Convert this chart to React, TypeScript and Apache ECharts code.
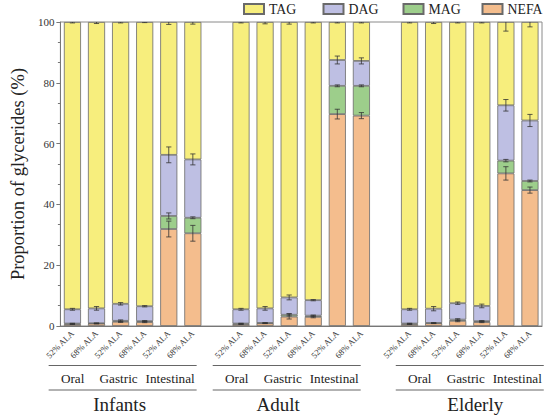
import React, { useEffect, useRef } from "react";
import * as echarts from "echarts";

const groups = ["Infants", "Adult", "Elderly"];
const phases = ["Oral", "Gastric", "Intestinal"];
const formulas = ["52% ALA", "68% ALA"];
const legendNames = ["TAG", "DAG", "MAG", "NEFA"];

// 18 bars: Infants(O52,O68,G52,G68,I52,I68), Adult(...), Elderly(...)
const NEFA = [0.6, 0.8, 1.4, 1.3, 31.9, 30.5, 0.6, 0.9, 3.1, 3.0, 69.7, 69.2, 0.6, 0.9, 1.7, 1.3, 50.2, 44.7];
const MAG = [0.2, 0.1, 0.3, 0.3, 4.3, 5.1, 0.2, 0.1, 0.6, 0.4, 9.3, 9.8, 0.2, 0.1, 0.4, 0.3, 4.2, 3.0];
const DAG = [4.7, 4.9, 5.6, 4.9, 20.1, 19.2, 4.7, 4.8, 5.7, 5.1, 8.5, 8.2, 4.7, 4.7, 5.4, 5.0, 18.2, 19.9];
const TAG = [94.5, 94.2, 92.7, 93.5, 43.7, 45.2, 94.5, 94.2, 90.6, 91.5, 12.5, 12.8, 94.5, 94.3, 92.5, 93.4, 27.4, 32.4];

const NEFA_SD = [0.1, 0.1, 0.2, 0.2, 2.6, 2.6, 0.1, 0.1, 0.8, 0.3, 1.6, 1.0, 0.1, 0.1, 0.3, 0.2, 2.2, 1.0];
const MAG_SD = [0.1, 0.1, 0.3, 0.2, 1.0, 0.3, 0.1, 0.1, 0.4, 0.2, 0.3, 0.3, 0.1, 0.1, 0.3, 0.2, 0.4, 0.3];
const DAG_SD = [0.3, 0.6, 0.4, 0.2, 2.6, 1.8, 0.3, 0.6, 0.8, 0.2, 1.3, 1.0, 0.3, 0.7, 0.4, 0.6, 1.9, 2.0];
const TAG_SD = [0.3, 0.5, 0.3, 0.2, 0.8, 0.7, 0.3, 0.6, 0.7, 0.3, 0.3, 0.3, 0.3, 0.5, 0.3, 0.3, 3.0, 1.6];

const yTicks = [0, 20, 40, 60, 80, 100];

const COLORS: Record<string, string> = {
  TAG: "#F7EE7D",
  DAG: "#BEBFE3",
  MAG: "#9DCE8B",
  NEFA: "#F4BD8D",
};

const FONT = "Liberation Serif";

// slot index of bar i (one blank slot between groups)
const slotOf = (i: number) => i + Math.floor(i / 6);
const NSLOTS = 20;

function buildSlots(values: number[]): (number | string)[] {
  const out: (number | string)[] = new Array(NSLOTS).fill("-");
  values.forEach((v, i) => (out[slotOf(i)] = v));
  return out;
}

const xLabels: string[] = (() => {
  const out: string[] = new Array(NSLOTS).fill("");
  for (let i = 0; i < 18; i++) out[slotOf(i)] = formulas[i % 2];
  return out;
})();

export default function App() {
  const ref = useRef<HTMLDivElement>(null);

  useEffect(() => {
    if (!ref.current) return;
    const chart = echarts.init(ref.current, undefined, { renderer: "svg" });

    const stackOrder = [
      { name: "NEFA", vals: NEFA, sd: NEFA_SD },
      { name: "MAG", vals: MAG, sd: MAG_SD },
      { name: "DAG", vals: DAG, sd: DAG_SD },
      { name: "TAG", vals: TAG, sd: TAG_SD },
    ];

    const cum = new Array(18).fill(0);
    const errData: number[][] = [];
    stackOrder.forEach((s) => {
      s.vals.forEach((v, i) => {
        cum[i] += v;
        errData.push([slotOf(i), cum[i], s.sd[i]]);
      });
    });

    const barSeries = stackOrder.map((s) => ({
      name: s.name,
      type: "bar",
      stack: "all",
      barWidth: "71%",
      data: buildSlots(s.vals),
      itemStyle: { color: COLORS[s.name], borderColor: "#6a6a6a", borderWidth: 0.8 },
      emphasis: { disabled: true },
    }));

    const legendLefts = [243, 322.5, 402.5, 481.5];
    const legends = legendNames.map((n, i) => ({
      data: [n],
      left: legendLefts[i],
      top: 2,
      padding: 0,
      itemWidth: 20,
      itemHeight: 10,
      itemGap: 0,
      icon: "rect",
      textStyle: { fontFamily: FONT, fontSize: 13.8, color: "#222" },
      selectedMode: false,
    }));

    const option: any = {
      animation: false,
      textStyle: { fontFamily: FONT },
      grid: {
        left: 58,
        right: 8,
        top: 22,
        bottom: 92,
        show: true,
        borderColor: "#8a8a8a",
        borderWidth: 1,
      },
      legend: legends,
      xAxis: {
        type: "category",
        data: xLabels,
        axisLine: { lineStyle: { color: "#777", width: 1 } },
        axisTick: { show: false },
        axisLabel: {
          interval: 0,
          rotate: 45,
          fontSize: 8.6,
          color: "#333",
          margin: 6,
          fontFamily: FONT,
        },
      },
      yAxis: {
        type: "value",
        min: yTicks[0],
        max: yTicks[yTicks.length - 1],
        interval: yTicks[1] - yTicks[0],
        name: "Proportion of glycerides (%)",
        nameLocation: "middle",
        nameGap: 31,
        nameTextStyle: { fontFamily: FONT, fontSize: 18.5, color: "#222" },
        axisLine: { show: true, lineStyle: { color: "#777", width: 1 } },
        axisTick: { show: true, length: 4, lineStyle: { color: "#777" } },
        minorTick: { show: true, splitNumber: 3, length: 2.5, lineStyle: { color: "#777" } },
        splitLine: { show: false },
        axisLabel: { fontSize: 11, color: "#333", margin: 6, fontFamily: FONT },
      },
      series: [
        ...barSeries,
        {
          type: "custom",
          name: "err",
          clip: true,
          z: 10,
          data: errData,
          renderItem: (params: any, api: any) => {
            const x = api.value(0);
            const top = api.value(1);
            const e = api.value(2);
            const pHi = api.coord([x, top + e]);
            const pLo = api.coord([x, top - e]);
            const w = 2.6;
            const style = { stroke: "#333", lineWidth: 0.8 };
            return {
              type: "group",
              children: [
                { type: "line", shape: { x1: pHi[0], y1: pHi[1], x2: pLo[0], y2: pLo[1] }, style },
                { type: "line", shape: { x1: pHi[0] - w, y1: pHi[1], x2: pHi[0] + w, y2: pHi[1] }, style },
                { type: "line", shape: { x1: pLo[0] - w, y1: pLo[1], x2: pLo[0] + w, y2: pLo[1] }, style },
              ],
            };
          },
        },
      ],
    };

    chart.setOption(option);

    // group annotations under the axis
    const lineShift = [-10, -14.5, 0];
    const phaseOffsets = [-50, -4, 47.5];
    const nameShift = [-3, -8.5, 5.5];
    const halfLen = 74;
    const graphics: any[] = [];
    groups.forEach((g, gi) => {
      const c0 = chart.convertToPixel({ xAxisIndex: 0 }, slotOf(gi * 6)) as number;
      const c5 = chart.convertToPixel({ xAxisIndex: 0 }, slotOf(gi * 6 + 5)) as number;
      const cx = (c0 + c5) / 2 + lineShift[gi];
      [365.5, 390].forEach((y) => {
        graphics.push({
          type: "line",
          shape: { x1: cx - halfLen, y1: y, x2: cx + halfLen, y2: y },
          style: { stroke: "#666", lineWidth: 1.2 },
        });
      });
      phases.forEach((p, pi) => {
        graphics.push({
          type: "text",
          x: cx + phaseOffsets[pi],
          y: 378,
          style: {
            text: p,
            fontFamily: FONT,
            fontSize: 13.2,
            fill: "#222",
            align: "center",
            verticalAlign: "middle",
          },
        });
      });
      graphics.push({
        type: "text",
        x: cx + nameShift[gi],
        y: 404,
        style: {
          text: g,
          fontFamily: FONT,
          fontSize: 19,
          fill: "#222",
          align: "center",
          verticalAlign: "middle",
        },
      });
    });
    chart.setOption({ graphic: graphics });

    return () => chart.dispose();
  }, []);

  return (
    <div
      ref={ref}
      style={{ position: "fixed", left: 0, top: 0, width: 550, height: 418, background: "#fff" }}
    />
  );
}
